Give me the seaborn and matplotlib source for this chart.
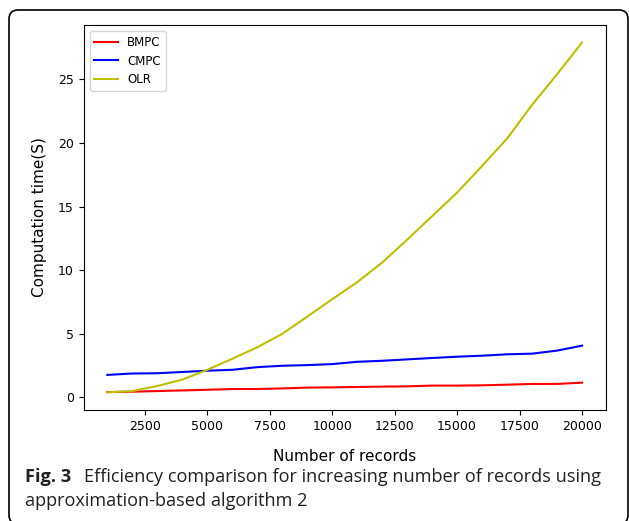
import pandas as pd
import matplotlib.pyplot as plt
import seaborn as sns
from matplotlib.patches import FancyBboxPatch

records = list(range(1000, 21000, 1000))
bmpc = [0.42, 0.45, 0.50, 0.55, 0.60, 0.66, 0.66, 0.71, 0.77, 0.79,
        0.82, 0.85, 0.87, 0.93, 0.93, 0.95, 1.00, 1.06, 1.06, 1.16]
cmpc = [1.77, 1.88, 1.90, 2.00, 2.10, 2.17, 2.38, 2.49, 2.54, 2.62,
        2.80, 2.88, 2.99, 3.10, 3.20, 3.28, 3.39, 3.44, 3.68, 4.07]
olr = [0.40, 0.50, 0.90, 1.40, 2.17, 3.04, 3.94, 5.00, 6.35, 7.72,
       9.06, 10.6, 12.4, 14.25, 16.1, 18.2, 20.35, 23.0, 25.4, 27.9]

series = {'BMPC': (bmpc, 'r'), 'CMPC': (cmpc, 'b'), 'OLR': (olr, 'y')}

fig = plt.figure(figsize=(6.29, 5.21), dpi=100)
ax = fig.add_axes([0.133, 0.2134, 0.830, 0.7385])

for name, (vals, col) in series.items():
    df = pd.DataFrame({'records': records, 'time': vals})
    sns.lineplot(data=df, x='records', y='time', color=col, label=name,
                 linewidth=1.5, ax=ax)

ax.set_xticks([2500, 5000, 7500, 10000, 12500, 15000, 17500, 20000])
ax.tick_params(labelsize=9)
ax.set_xlabel('Number of records', fontsize=11, labelpad=12)
ax.set_ylabel('Computation time(S)', fontsize=11, labelpad=8)
ax.legend(loc='upper left', fontsize=8.5)

# rounded frame around the figure panel (inches, so corners stay round)
frame = FancyBboxPatch((0.09, -0.03), 6.19, 5.14,
                       boxstyle='round,pad=0,rounding_size=0.09',
                       transform=fig.dpi_scale_trans, fill=False,
                       edgecolor='black', linewidth=1.2, clip_on=False)
fig.patches.append(frame)

cap_font = ['Open Sans', 'DejaVu Sans']
cap_col = '#231f20'
fig.text(25 / 629, 1 - 482 / 521, 'Fig. 3', fontsize=13.1, fontweight='bold',
         family=cap_font, va='baseline', color=cap_col)
fig.text(84 / 629, 1 - 482 / 521,
         'Efficiency comparison for increasing number of records using',
         fontsize=13.1, family=cap_font, va='baseline', color=cap_col)
fig.text(25 / 629, 1 - 506 / 521, 'approximation-based algorithm 2',
         fontsize=13.1, family=cap_font, va='baseline', color=cap_col)

plt.savefig('out.png')
